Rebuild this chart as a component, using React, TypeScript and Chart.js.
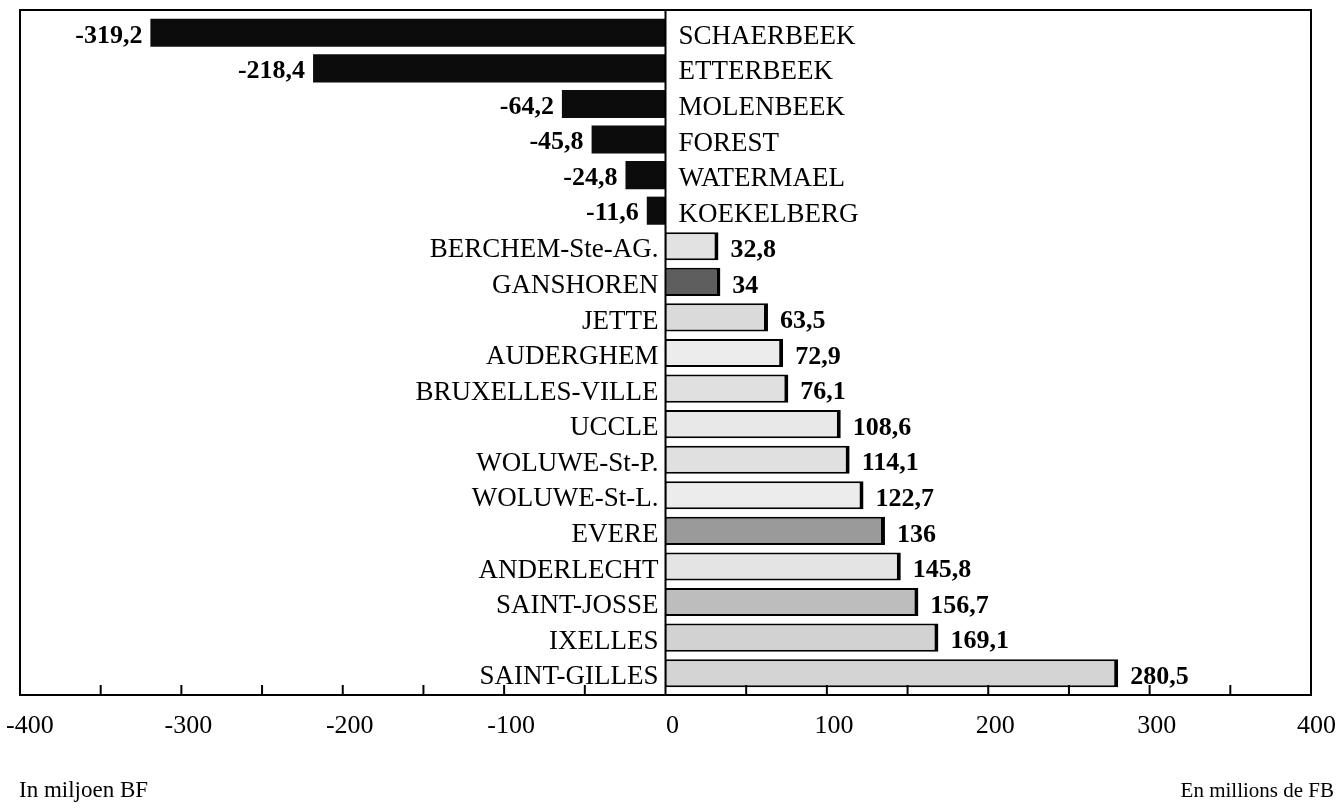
import React, { useEffect, useRef } from 'react';
import { Chart, registerables } from 'chart.js';

Chart.register(...registerables);

const communes = [
  'SCHAERBEEK', 'ETTERBEEK', 'MOLENBEEK', 'FOREST', 'WATERMAEL', 'KOEKELBERG',
  'BERCHEM-Ste-AG.', 'GANSHOREN', 'JETTE', 'AUDERGHEM', 'BRUXELLES-VILLE', 'UCCLE',
  'WOLUWE-St-P.', 'WOLUWE-St-L.', 'EVERE', 'ANDERLECHT', 'SAINT-JOSSE', 'IXELLES', 'SAINT-GILLES',
];
const values = [
  -319.2, -218.4, -64.2, -45.8, -24.8, -11.6,
  32.8, 34, 63.5, 72.9, 76.1, 108.6,
  114.1, 122.7, 136, 145.8, 156.7, 169.1, 280.5,
];
const valueLabels = [
  '-319,2', '-218,4', '-64,2', '-45,8', '-24,8', '-11,6',
  '32,8', '34', '63,5', '72,9', '76,1', '108,6',
  '114,1', '122,7', '136', '145,8', '156,7', '169,1', '280,5',
];
const barShades = [
  '#0c0c0c', '#0c0c0c', '#0c0c0c', '#0c0c0c', '#0c0c0c', '#0c0c0c',
  '#e2e2e2', '#5e5e5e', '#dadada', '#ececec', '#e0e0e0', '#e8e8e8',
  '#e0e0e0', '#ececec', '#9a9a9a', '#e4e4e4', '#bdbdbd', '#d2d2d2', '#d4d4d4',
];
const xMin = -400;
const xMax = 400;
const xStep = 50;
const xLabelStep = 100;
const leftNote = 'In miljoen BF';
const rightNote = 'En millions de FB';

const SERIF = '"Liberation Serif", "Times New Roman", serif';

export default function App() {
  const ref = useRef<HTMLCanvasElement>(null);

  useEffect(() => {
    const canvas = ref.current;
    if (!canvas) return;

    const overlay = {
      id: 'overlay',
      afterDraw(chart: any) {
        const { ctx, chartArea: a, scales } = chart;
        const xs = scales.x;
        const ys = scales.y;
        const top = a.top - 5;
        const bottom = a.bottom + 4;
        ctx.save();
        ctx.strokeStyle = '#000';
        ctx.fillStyle = '#000';
        ctx.lineWidth = 2;
        // frame
        ctx.strokeRect(a.left, top, a.right - a.left, bottom - top);
        // zero line
        const x0 = xs.getPixelForValue(0);
        ctx.beginPath();
        ctx.moveTo(x0, top);
        ctx.lineTo(x0, bottom);
        ctx.stroke();
        // ticks (inward) and labels
        const tickVals: number[] = (xs.ticks || []).map((t: any) => t.value);
        if (!tickVals.length) {
          for (let v = xMin; v <= xMax; v += xStep) tickVals.push(v);
        }
        ctx.font = `26px ${SERIF}`;
        ctx.textBaseline = 'middle';
        ctx.textAlign = 'center';
        tickVals.forEach((v) => {
          const px = xs.getPixelForValue(v);
          if (v !== xMin && v !== xMax && v !== 0) {
            ctx.beginPath();
            ctx.moveTo(px, bottom);
            ctx.lineTo(px, bottom - 10);
            ctx.stroke();
          }
          if (v % xLabelStep === 0) {
            const label = String(v);
            const w = ctx.measureText(label).width;
            let cx = px + 7;
            cx = Math.max(cx, w / 2 + 6);
            cx = Math.min(cx, chart.width - w / 2 - 8);
            ctx.fillText(label, cx, bottom + 31);
          }
        });
        // category and value labels
        communes.forEach((name, i) => {
          const py = ys.getPixelForValue(i);
          const v = values[i];
          const pv = xs.getPixelForValue(v);
          ctx.font = `27px ${SERIF}`;
          ctx.textBaseline = 'middle';
          if (v < 0) {
            ctx.textAlign = 'left';
            ctx.fillText(name, x0 + 13, py + 4);
            ctx.font = `bold 26px ${SERIF}`;
            ctx.textAlign = 'right';
            ctx.fillText(valueLabels[i], pv - 8, py + 3);
          } else {
            ctx.textAlign = 'right';
            ctx.fillText(name, x0 - 7, py + 4);
            ctx.font = `bold 26px ${SERIF}`;
            ctx.textAlign = 'left';
            ctx.fillText(valueLabels[i], pv + 12, py + 4);
          }
        });
        // footnotes
        ctx.textBaseline = 'middle';
        ctx.font = `23px ${SERIF}`;
        ctx.textAlign = 'left';
        ctx.fillText(leftNote, 19, 791);
        ctx.font = `21px ${SERIF}`;
        ctx.textAlign = 'right';
        ctx.fillText(rightNote, 1334, 791);
        ctx.restore();
      },
    };

    const chart = new Chart(canvas, {
      type: 'bar',
      data: {
        labels: communes,
        datasets: [
          {
            data: values,
            backgroundColor: barShades,
            borderColor: '#000',
            borderWidth: values.map((v) => (v < 0 ? 0 : { top: 2, bottom: 2, left: 1, right: 4 })) as any,
            borderSkipped: false,
            barPercentage: 0.79,
            categoryPercentage: 1,
          },
        ],
      },
      options: {
        indexAxis: 'y',
        responsive: false,
        animation: false,
        layout: { padding: { left: 20, right: 33, top: 15, bottom: 118 } },
        plugins: {
          legend: { display: false },
          tooltip: { enabled: false },
        },
        scales: {
          x: {
            type: 'linear',
            display: false,
            min: xMin,
            max: xMax,
            ticks: { stepSize: xStep },
          },
          y: {
            type: 'category',
            display: false,
          },
        },
      },
      plugins: [overlay],
    });

    return () => chart.destroy();
  }, []);

  return (
    <div style={{ position: 'absolute', left: 0, top: 0, width: 1344, height: 809, background: '#fff' }}>
      <canvas ref={ref} width={1344} height={809} style={{ display: 'block' }} />
    </div>
  );
}
